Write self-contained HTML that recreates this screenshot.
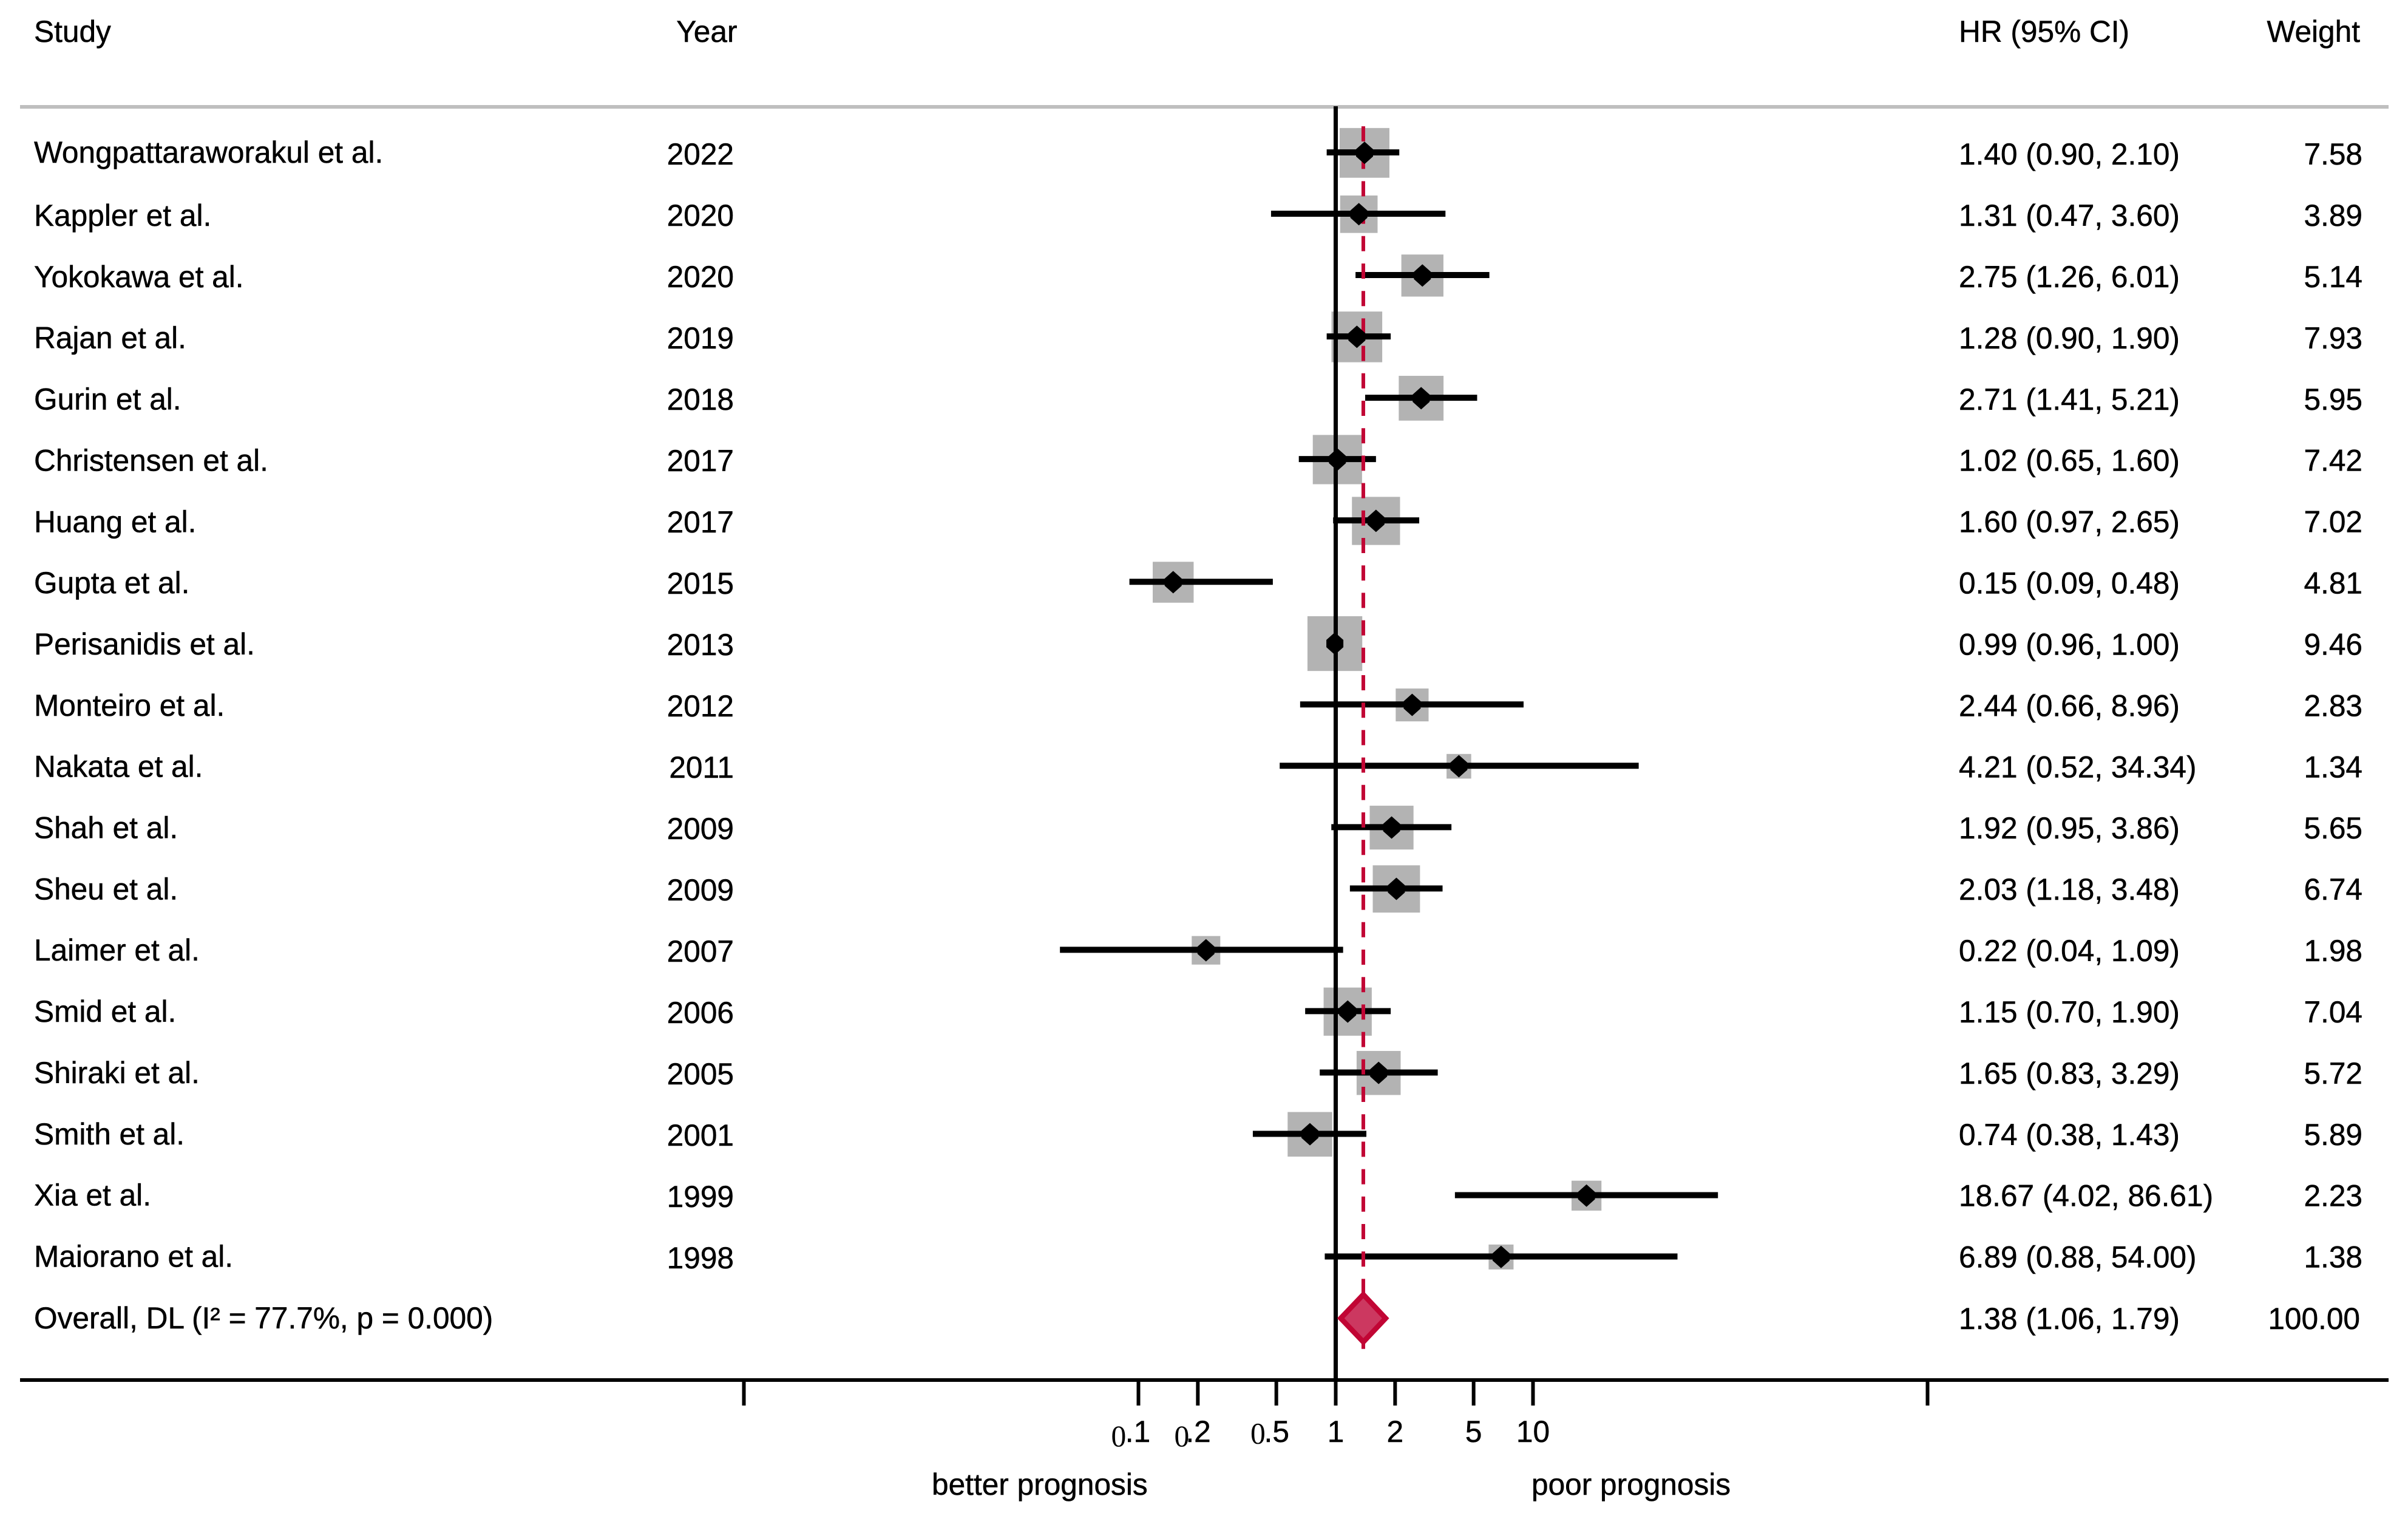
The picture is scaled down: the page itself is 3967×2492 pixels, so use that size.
<!DOCTYPE html>
<html lang="en">
<head>
<meta charset="utf-8">
<title>Forest plot of hazard ratios</title>
<style>
  html, body { margin: 0; padding: 0; background: #fff; }
  svg { display: block; }
  text { font-family: "Liberation Sans", Arial, sans-serif; font-size: 49.6px; fill: #000; stroke: #000; stroke-width: 0.5px; }
  tspan.serif-zero { font-family: "Liberation Serif", serif; stroke-width: 0; }
</style>
</head>
<body>
<svg id="plot" xmlns="http://www.w3.org/2000/svg" width="3967" height="2492" viewBox="0 0 3967 2492">
  <rect x="0" y="0" width="3967" height="2492" fill="#ffffff"/>
  <text x="56" y="69">Study</text>
  <text x="1214.5" y="69" text-anchor="end">Year</text>
  <text x="3227" y="69">HR (95% CI)</text>
  <text x="3888" y="69" text-anchor="end">Weight</text>
  <rect x="33" y="173" width="3902" height="6" fill="#bfbfbf"/>
  <rect x="33" y="2270" width="3902" height="6" fill="#000000"/>
  <text x="1535" y="2462">better prognosis</text>
  <text x="2523" y="2462">poor prognosis</text>
  <text x="56" y="2188">Overall, DL (I² = 77.7%, p = 0.000)</text>
</svg>
<script>
const studies = ["Wongpattaraworakul et al.", "Kappler et al.", "Yokokawa et al.", "Rajan et al.", "Gurin et al.", "Christensen et al.", "Huang et al.", "Gupta et al.", "Perisanidis et al.", "Monteiro et al.", "Nakata et al.", "Shah et al.", "Sheu et al.", "Laimer et al.", "Smid et al.", "Shiraki et al.", "Smith et al.", "Xia et al.", "Maiorano et al."];
const years = [2022, 2020, 2020, 2019, 2018, 2017, 2017, 2015, 2013, 2012, 2011, 2009, 2009, 2007, 2006, 2005, 2001, 1999, 1998];
const hazardRatios = [1.40, 1.31, 2.75, 1.28, 2.71, 1.02, 1.60, 0.15, 0.99, 2.44, 4.21, 1.92, 2.03, 0.22, 1.15, 1.65, 0.74, 18.67, 6.89];
const ciLower = [0.90, 0.47, 1.26, 0.90, 1.41, 0.65, 0.97, 0.09, 0.96, 0.66, 0.52, 0.95, 1.18, 0.04, 0.70, 0.83, 0.38, 4.02, 0.88];
const ciUpper = [2.10, 3.60, 6.01, 1.90, 5.21, 1.60, 2.65, 0.48, 1.00, 8.96, 34.34, 3.86, 3.48, 1.09, 1.90, 3.29, 1.43, 86.61, 54.00];
const weights = [7.58, 3.89, 5.14, 7.93, 5.95, 7.42, 7.02, 4.81, 9.46, 2.83, 1.34, 5.65, 6.74, 1.98, 7.04, 5.72, 5.89, 2.23, 1.38];
const overallHr = 1.38;
const overallLower = 1.06;
const overallUpper = 1.79;
const overallWeight = 100.00;
const axisTicks = [0.001, 0.1, 0.2, 0.5, 1, 2, 5, 10, 1000];
const tickLabels = ["", "0.1", "0.2", "0.5", "1", "2", "5", "10", ""];

const svg = document.getElementById('plot');
const NS = 'http://www.w3.org/2000/svg';
const RED = '#c10534';

function xScale(v) { return 2200.5 + 325 * Math.log10(v); }
function yScale(i) { return 251 + 101.03 * i; }
function textBaseline(i) { return 372 + 100.85 * (i - 1); }
function yearBaseline(i) { return 372 + 101 * (i - 1); }
function valueBaseline(i) { return 372 + 100.92 * (i - 1); }
function boxSide(w) { return 10.6 + 25.9 * Math.sqrt(w); }

// hand-kerned "0" offsets seen in the reference's decimal tick labels
function zeroLayout(lab) {
  if (lab === '0.1') return { shift: -45, drop: 7, gap: -1.5 };
  if (lab === '0.2') return { shift: -38.8, drop: 7, gap: -6 };
  return { shift: -42.7, drop: 2.5, gap: -2.2 };
}

function make(tag, attrs, parent) {
  const node = document.createElementNS(NS, tag);
  for (const k in attrs) node.setAttribute(k, attrs[k]);
  (parent || svg).appendChild(node);
  return node;
}
function fmt(v) { return v.toFixed(2); }

// weight boxes
studies.forEach(function (s, i) {
  const side = boxSide(weights[i]);
  const box = make('rect', { x: xScale(hazardRatios[i]) - side / 2, y: yScale(i) + 0.8 - side / 2, width: side, height: side, fill: '#b3b3b3' });
  
  
});

// confidence intervals
studies.forEach(function (s, i) {
  const ci = make('line', { x1: xScale(ciLower[i]), x2: xScale(ciUpper[i]), y1: yScale(i), y2: yScale(i), stroke: '#000', 'stroke-width': 10 });
  
  
});

// overall dashed reference
const overallLine = make('line', { x1: xScale(overallHr), x2: xScale(overallHr), y1: 208, y2: 2222, stroke: RED, 'stroke-width': 6, 'stroke-dasharray': '25 20.2' });



// null line
const nullLine = make('line', { x1: xScale(1), x2: xScale(1), y1: 175, y2: 2272, stroke: '#000', 'stroke-width': 7 });



// point estimates (diamond with blunted side tips)
studies.forEach(function (s, i) {
  const cx = xScale(hazardRatios[i]);
  const cy = yScale(i) + 0.7;
  const pts = [[cx, cy - 18.5], [cx + 14, cy - 6], [cx + 14, cy + 6], [cx, cy + 18.5], [cx - 14, cy + 6], [cx - 14, cy - 6]].map(function (p) { return p.join(','); }).join(' ');
  const marker = make('polygon', { points: pts, fill: '#000' });
  
  
});

// overall diamond
const oy = yScale(19) + 0.7;
const diamondPts = [[xScale(overallLower), oy], [xScale(overallHr), oy - 39], [xScale(overallUpper), oy], [xScale(overallHr), oy + 39]].map(function (p) { return p.join(','); }).join(' ');
const diamond = make('polygon', { points: diamondPts, fill: '#cc3860', stroke: RED, 'stroke-width': 8.6, 'stroke-linejoin': 'miter', 'stroke-miterlimit': 10 });



// table text
studies.forEach(function (s, i) {
  const nameText = make('text', { x: 56, y: i === 0 ? 268 : textBaseline(i) });
  nameText.textContent = s;
  
  

  const yearText = make('text', { x: 1209, y: i === 0 ? 271 : yearBaseline(i), 'text-anchor': 'end' });
  yearText.textContent = years[i];
  
  

  const hrText = make('text', { x: 3227, y: i === 0 ? 271 : valueBaseline(i) });
  hrText.textContent = fmt(hazardRatios[i]) + ' (' + fmt(ciLower[i]) + ', ' + fmt(ciUpper[i]) + ')';
  
  

  const weightText = make('text', { x: 3892, y: i === 0 ? 271 : valueBaseline(i), 'text-anchor': 'end' });
  weightText.textContent = fmt(weights[i]);
  
  
});

const overallHrText = make('text', { x: 3227, y: 2189 });
overallHrText.textContent = fmt(overallHr) + ' (' + fmt(overallLower) + ', ' + fmt(overallUpper) + ')';



const overallWeightText = make('text', { x: 3888, y: 2189, 'text-anchor': 'end' });
overallWeightText.textContent = fmt(overallWeight);



// axis ticks and labels
axisTicks.forEach(function (t, i) {
  const tick = make('line', { x1: xScale(t), x2: xScale(t), y1: 2276, y2: 2315, stroke: '#000', 'stroke-width': 6 });
  
  

  const lab = tickLabels[i];
  if (!lab) return;
  const isDecimal = lab.charAt(0) === '0';
  const layout = zeroLayout(lab);
  const label = make('text', { x: isDecimal ? xScale(t) + layout.shift : xScale(t), y: 2375, 'text-anchor': isDecimal ? 'start' : 'middle' });
  
  
  if (isDecimal) {
    const zero = make('tspan', { dy: layout.drop, class: 'serif-zero' }, label);
    zero.textContent = '0';
    const rest = make('tspan', { dy: -layout.drop, dx: layout.gap }, label);
    rest.textContent = lab.slice(1);
  } else {
    label.textContent = lab;
  }
});
</script>
</body>
</html>
